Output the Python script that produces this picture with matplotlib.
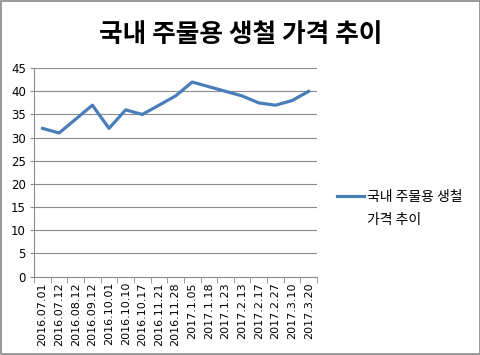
import numpy as np
import matplotlib.pyplot as plt
from matplotlib.patches import Rectangle

plt.rcParams['font.family'] = ['Noto Sans CJK KR', 'DejaVu Sans']

dates = ['2016.07.01', '2016.07.12', '2016.08.12', '2016.09.12', '2016.10.01',
         '2016.10.10', '2016.10.17', '2016.11.21', '2016.11.28', '2017.1.05',
         '2017.1.18', '2017.1.23', '2017.2.13', '2017.2.17', '2017.2.27',
         '2017.3.10', '2017.3.20']
prices = [32, 31, 34, 37, 32, 36, 35, 37, 39, 42, 41, 40, 39, 37.5, 37, 38, 40]
title = '국내 주물용 생철 가격 추이'
series_name = ['국내 주물용 생철', '가격 추이']

fig = plt.figure(figsize=(4.81, 3.55), dpi=100)
ax = fig.add_axes([0.071, 0.221, 0.588, 0.587])

x = np.arange(len(dates))
ax.plot(x, prices, color='#4a7ebb', lw=2.3, label=series_name[0])

ax.set_xlim(-0.5, len(dates) - 0.5)
ax.set_ylim(0, 45)
ax.set_yticks(np.arange(0, 46, 5))
ax.yaxis.grid(True, color='#8c8c8c', lw=0.8)
ax.set_axisbelow(True)

ax.set_xticks(x)
ax.set_xticklabels(dates, rotation=90, fontsize=8, family='DejaVu Sans')
ax.set_xticks(np.arange(-0.5, len(dates), 1), minor=True)
ax.tick_params(axis='x', which='major', length=0, pad=4)
ax.tick_params(axis='x', which='minor', length=4, color='#8c8c8c', direction='out')
ax.tick_params(axis='y', length=3, color='#8c8c8c', labelsize=8.5, pad=3)
for lab in ax.get_yticklabels():
    lab.set_family('DejaVu Sans')

for s in ['top', 'right']:
    ax.spines[s].set_visible(False)
for s in ['left', 'bottom']:
    ax.spines[s].set_color('#8c8c8c')

fig.text(0.5, 0.902, title, ha='center', va='center', fontsize=18.5, fontweight='bold')

# legend: handle sits beside the first line, name wraps to a second line
leg = ax.legend(loc='center left', bbox_to_anchor=(1.045, 0.382), frameon=False,
                fontsize=10, handlelength=2.0, handletextpad=0.2, borderpad=0)
fig.canvas.draw()
bb = leg.get_texts()[0].get_window_extent()
fig.text(bb.x0 / fig.bbox.width, (bb.y0 + bb.y1) / 2 / fig.bbox.height - 23 / 355,
         series_name[1], ha='left', va='center', fontsize=10)

fig.patches.append(Rectangle((0.002, 0.003), 0.995, 0.994, transform=fig.transFigure,
                             fill=False, edgecolor='#888888', lw=1.2))

fig.savefig('out.png', dpi=100)
